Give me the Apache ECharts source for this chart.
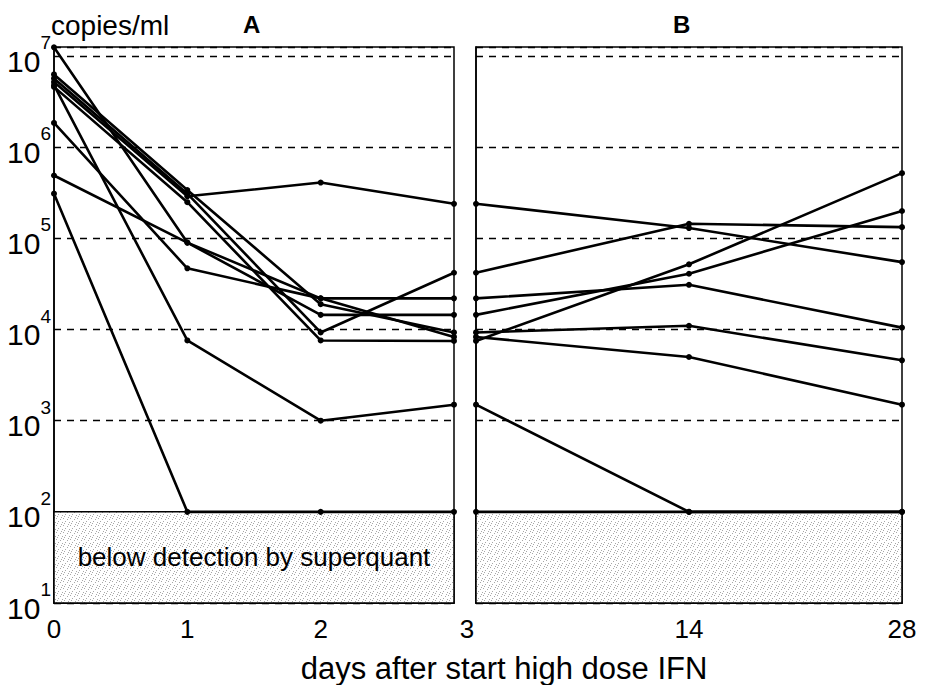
<!DOCTYPE html>
<html><head><meta charset="utf-8">
<script src="https://cdn.jsdelivr.net/npm/echarts@6/dist/echarts.min.js"></script>
<style>html,body{margin:0;padding:0;background:#fff}#c{width:925px;height:685px}</style>
</head><body><div id="c"></div>
<script>
// x categories
const daysA = [0, 1, 2, 3];
const daysB = ['3', '14', '28'];
const daysALabels = ['0', '1', '2', '3'];
// y axis range (copies/ml) and detection limit
const yMin = 10;
const yMax = 1.26e7;
const detectionLimit = 100;
// each patient: values at day 0,1,2,3 (panel A) then day 3,14,28 (panel B)
const pt1 = [5.2e6, 2.9e5, 4.1e5, 2.4e5, 2.4e5, 1.3e5, 5.5e4];
const pt2 = [5.7e6, 3.1e5, 9.3e3, 4.2e4, 4.2e4, 1.45e5, 1.33e5];
const pt3 = [1.85e6, 4.7e4, 2.2e4, 2.2e4, 2.2e4, 3.1e4, 1.05e4];
const pt4 = [4.9e5, 9.0e4, 1.45e4, 1.45e4, 1.45e4, 4.1e4, 2.0e5];
const pt5 = [6.3e6, 3.4e5, 1.9e4, 9.3e3, 9.3e3, 1.1e4, 4.6e3];
const pt6 = [4.6e6, 2.5e5, 7.6e3, 7.5e3, 7.5e3, 5.2e4, 5.2e5];
const pt7 = [1.25e7, 9.0e4, 2.2e4, 8.3e3, 8.3e3, 5.0e3, 1.5e3];
const pt8 = [4.8e6, 7.6e3, 1.0e3, 1.5e3, 1.5e3, 100, 100];
const pt9 = [3.1e5, 100, 100, 100, 100, 100, 100];
const patients = [pt1, pt2, pt3, pt4, pt5, pt6, pt7, pt8, pt9];

function stippleURL() {
  const c = document.createElement('canvas');
  c.width = 7; c.height = 7;
  const g = c.getContext('2d');
  g.fillStyle = '#ffffff'; g.fillRect(0, 0, 7, 7);
  g.fillStyle = '#a8a8a8';
  [[0,0],[4,1],[2,3],[6,4],[1,5],[5,6]].forEach(([x, y]) => g.fillRect(x, y, 1, 1));
  return c.toDataURL();
}
const stipple = { image: stippleURL(), repeat: 'repeat', imageWidth: 7, imageHeight: 7 };

const FONT = '"Liberation Sans", Arial, Helvetica, sans-serif';
const chart = echarts.init(document.getElementById('c'), null, { renderer: 'svg' });

const lineStyle = { color: '#000', width: 2.6 };
const baseSeries = { type: 'line', symbol: 'circle', symbolSize: 6, itemStyle: { color: '#000' },
  lineStyle, clip: false, silent: true, animation: false, z: 3 };

const series = [];
patients.forEach((p, i) => {
  const sA = Object.assign({}, baseSeries, { xAxisIndex: 0, yAxisIndex: 0,
    data: daysA.map((d, j) => [d, p[j]]) });
  const sB = Object.assign({}, baseSeries, { xAxisIndex: 1, yAxisIndex: 1, data: p.slice(4) });
  if (i === 0) {
    sA.markArea = { silent: true, itemStyle: { color: stipple, borderColor: '#000', borderWidth: 1.5 },
      label: { show: true, position: 'inside', formatter: 'below detection by superquant',
        fontFamily: FONT, fontSize: 26, color: '#000' },
      data: [[{ yAxis: yMin }, { yAxis: detectionLimit }]] };
    sB.markArea = { silent: true, itemStyle: { color: stipple, borderColor: '#000', borderWidth: 1.5 },
      label: { show: false }, data: [[{ yAxis: yMin }, { yAxis: detectionLimit }]] };
  }
  series.push(sA, sB);
});

const yAxisBase = (i) => ({
  type: 'log', logBase: 10, gridIndex: i, min: yMin, max: yMax,
  axisLine: { show: true, lineStyle: { color: '#000', width: 1.5 } },
  axisTick: { show: false },
  splitLine: { show: true, lineStyle: { color: '#000', type: [7, 6], width: 1.3 } },
  axisLabel: i === 0 ? {
    margin: 3, padding: [10, 0, 0, 0],
    formatter: (v) => {
      const l = Math.log10(v), e = Math.round(l);
      return Math.abs(l - e) < 1e-6 ? '{b|10}{s|' + e + '}' : '';
    },
    rich: {
      b: { fontFamily: FONT, fontSize: 30, lineHeight: 30, color: '#000', verticalAlign: 'bottom' },
      s: { fontFamily: FONT, fontSize: 19, lineHeight: 19, color: '#000', padding: [0, 0, 24, 0], verticalAlign: 'bottom' }
    }
  } : { show: false }
});

const xLabel = { fontFamily: FONT, fontSize: 26, color: '#000', margin: 13 };

chart.setOption({
  animation: false,
  backgroundColor: '#fff',
  grid: [
    { left: 54, top: 47, width: 400, height: 556, show: true, borderColor: '#000', borderWidth: 1.5, backgroundColor: 'transparent' },
    { left: 476, top: 47, width: 426, height: 556, show: true, borderColor: '#000', borderWidth: 1.5, backgroundColor: 'transparent' }
  ],
  xAxis: [
    { type: 'value', gridIndex: 0, min: 0, max: 3, interval: 1,
      axisLine: { show: true, lineStyle: { color: '#000', width: 1.5 } }, axisTick: { show: false }, splitLine: { show: false },
      axisLabel: Object.assign({}, xLabel, {
        formatter: (v) => v === 3 ? '{r|' + daysALabels[v] + '}' : daysALabels[v],
        rich: { r: { fontFamily: FONT, fontSize: 26, color: '#000', padding: [0, 0, 0, 26] } }
      }) },
    { type: 'category', gridIndex: 1, data: daysB, boundaryGap: false,
      axisLine: { show: true, lineStyle: { color: '#000', width: 1.5 } }, axisTick: { show: false }, splitLine: { show: false },
      axisLabel: Object.assign({}, xLabel, { formatter: (v, idx) => idx === 0 ? '' : v, interval: 0 }) }
  ],
  yAxis: [yAxisBase(0), yAxisBase(1)],
  title: [
    { text: 'copies/ml', left: 46, top: 6, textStyle: { fontFamily: FONT, fontSize: 28, fontWeight: 'normal', color: '#000' } },
    { text: 'A', left: 238, top: 7, textStyle: { fontFamily: FONT, fontSize: 24, fontWeight: 'bold', color: '#000' } },
    { text: 'B', left: 668, top: 7, textStyle: { fontFamily: FONT, fontSize: 24, fontWeight: 'bold', color: '#000' } },
    { text: 'days after start high dose IFN', left: 499, top: 648, textAlign: 'center',
      textStyle: { fontFamily: FONT, fontSize: 31, fontWeight: 'normal', color: '#000' } }
  ],
  series
});
</script></body></html>
